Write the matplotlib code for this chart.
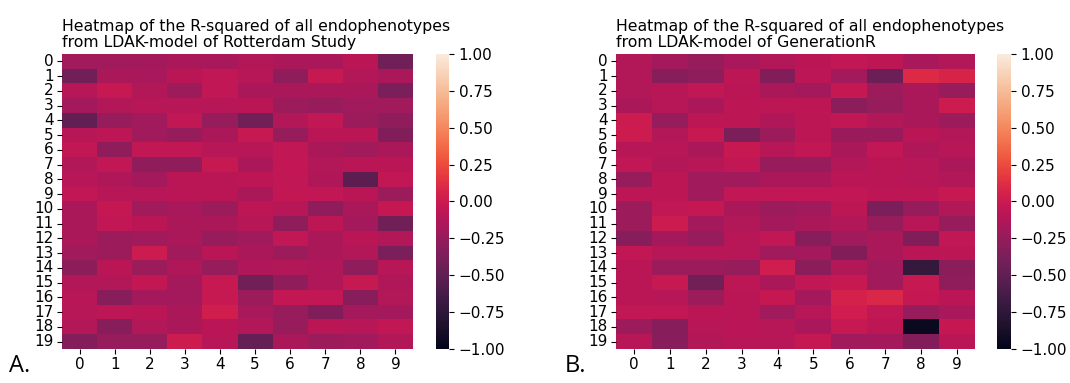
import numpy as np
import matplotlib
matplotlib.use("Agg")
import matplotlib.pyplot as plt
import seaborn as sns

# R-squared estimates (rows = 20 endophenotypes, cols = 10)
rotterdam = [
    [-0.20, -0.20, -0.18, -0.15, -0.17, -0.12, -0.15, -0.15, -0.08, -0.42],
    [-0.42, -0.15, -0.17, -0.08, -0.05, -0.10, -0.28, -0.02, -0.12, -0.15],
    [-0.10, -0.02, -0.12, -0.22, -0.05, -0.15, -0.15, -0.15, -0.15, -0.38],
    [-0.18, -0.12, -0.10, -0.10, -0.10, -0.08, -0.22, -0.25, -0.20, -0.20],
    [-0.50, -0.25, -0.20, -0.05, -0.25, -0.42, -0.12, -0.05, -0.22, -0.28],
    [-0.10, -0.07, -0.20, -0.25, -0.15, -0.02, -0.25, -0.08, -0.08, -0.35],
    [-0.05, -0.28, -0.05, -0.05, -0.10, -0.10, -0.05, -0.15, -0.20, -0.15],
    [-0.12, -0.05, -0.28, -0.28, -0.02, -0.15, -0.04, -0.12, -0.08, -0.08],
    [-0.10, -0.13, -0.18, -0.08, -0.08, -0.07, -0.05, -0.13, -0.52, -0.05],
    [-0.05, -0.10, -0.10, -0.08, -0.08, -0.15, -0.04, -0.05, -0.08, -0.22],
    [-0.15, -0.03, -0.20, -0.17, -0.22, -0.07, -0.10, -0.28, -0.15, -0.03],
    [-0.15, -0.05, -0.08, -0.15, -0.15, -0.10, -0.28, -0.07, -0.18, -0.42],
    [-0.15, -0.22, -0.20, -0.15, -0.25, -0.20, -0.05, -0.15, -0.08, -0.12],
    [-0.20, -0.22, 0.00, -0.20, -0.08, -0.15, -0.22, -0.15, -0.12, -0.38],
    [-0.30, -0.08, -0.22, -0.13, -0.25, -0.13, -0.12, -0.13, -0.28, -0.10],
    [-0.12, -0.12, -0.04, -0.18, -0.02, -0.42, -0.28, -0.13, -0.02, -0.13],
    [-0.10, -0.32, -0.18, -0.18, -0.02, -0.22, -0.04, -0.05, -0.32, -0.12],
    [-0.10, -0.07, -0.08, -0.15, 0.03, -0.17, -0.25, -0.35, -0.18, -0.18],
    [-0.12, -0.32, -0.12, -0.15, -0.08, -0.12, -0.25, -0.08, -0.10, -0.05],
    [-0.33, -0.25, -0.25, 0.00, -0.10, -0.48, -0.15, -0.22, -0.20, -0.12],
]

generation_r = [
    [-0.12, -0.18, -0.25, -0.17, -0.12, -0.08, -0.05, -0.07, -0.17, -0.12],
    [-0.12, -0.32, -0.28, -0.07, -0.35, -0.07, -0.18, -0.45, 0.10, 0.07],
    [-0.12, -0.10, -0.05, -0.08, -0.15, -0.18, -0.03, -0.22, -0.15, -0.25],
    [-0.15, -0.10, -0.15, -0.07, -0.07, -0.07, -0.30, -0.25, -0.15, 0.00],
    [0.00, -0.25, -0.07, -0.07, -0.13, -0.07, -0.05, -0.12, -0.15, -0.22],
    [0.00, -0.12, -0.02, -0.38, -0.22, -0.07, -0.23, -0.23, -0.08, -0.12],
    [-0.10, -0.10, -0.15, -0.02, -0.10, -0.05, -0.15, -0.05, -0.13, -0.10],
    [-0.05, -0.12, -0.10, -0.05, -0.25, -0.25, -0.12, -0.08, -0.10, -0.15],
    [-0.25, -0.07, -0.20, -0.20, -0.15, -0.15, -0.08, -0.08, -0.10, -0.12],
    [-0.07, -0.07, -0.20, -0.05, -0.05, -0.05, -0.05, -0.07, -0.07, -0.02],
    [-0.22, -0.05, -0.03, -0.15, -0.22, -0.20, -0.07, -0.38, -0.25, -0.12],
    [-0.22, 0.00, -0.18, -0.12, -0.18, -0.15, -0.12, -0.25, -0.10, -0.25],
    [-0.32, -0.18, -0.25, -0.10, -0.05, -0.32, -0.20, -0.15, -0.35, -0.05],
    [-0.05, -0.10, -0.10, -0.10, -0.20, -0.18, -0.35, -0.15, -0.08, -0.07],
    [-0.08, -0.22, -0.22, -0.25, 0.02, -0.30, -0.12, -0.20, -0.72, -0.30],
    [-0.08, -0.02, -0.42, -0.07, -0.15, -0.05, -0.02, -0.20, -0.02, -0.28],
    [-0.08, -0.10, -0.22, -0.08, -0.03, -0.18, 0.05, 0.08, -0.03, -0.08],
    [-0.05, -0.05, -0.08, -0.08, -0.20, -0.10, 0.02, -0.05, -0.25, -0.17],
    [-0.22, -0.32, -0.10, -0.08, -0.10, -0.17, -0.02, -0.07, -0.95, -0.03],
    [-0.10, -0.32, -0.12, -0.10, -0.10, -0.03, -0.20, -0.18, -0.35, -0.08],
]

titles = [
    "Heatmap of the R-squared of all endophenotypes\nfrom LDAK-model of Rotterdam Study",
    "Heatmap of the R-squared of all endophenotypes\nfrom LDAK-model of GenerationR",
]
panel_labels = ["A.", "B."]

fig = plt.figure(figsize=(10.7, 3.83), dpi=100)

# axes boxes (figure fraction) for heatmaps and their colorbars
hm_boxes = [[0.058, 0.089, 0.328, 0.770], [0.5757, 0.089, 0.3355, 0.770]]
cb_boxes = [[0.4075, 0.089, 0.0121, 0.770], [0.9318, 0.089, 0.0130, 0.770]]
label_x = [0.008, 0.528]

for data, title, hb, cb, lab, lx in zip([rotterdam, generation_r], titles,
                                        hm_boxes, cb_boxes, panel_labels, label_x):
    ax = fig.add_axes(hb)
    cax = fig.add_axes(cb)
    sns.heatmap(np.array(data), vmin=-1, vmax=1, cmap="rocket", ax=ax, cbar_ax=cax)
    ax.set_yticklabels(ax.get_yticklabels(), rotation=0)
    ax.tick_params(labelsize=11, pad=2.5)
    cax.tick_params(labelsize=11)
    ax.set_title(title, loc="left", fontsize=11.3, pad=5, linespacing=1.1)
    fig.text(lx, 0.03, lab, fontsize=17, family="Open Sans")

fig.savefig("out.png", dpi=100)
